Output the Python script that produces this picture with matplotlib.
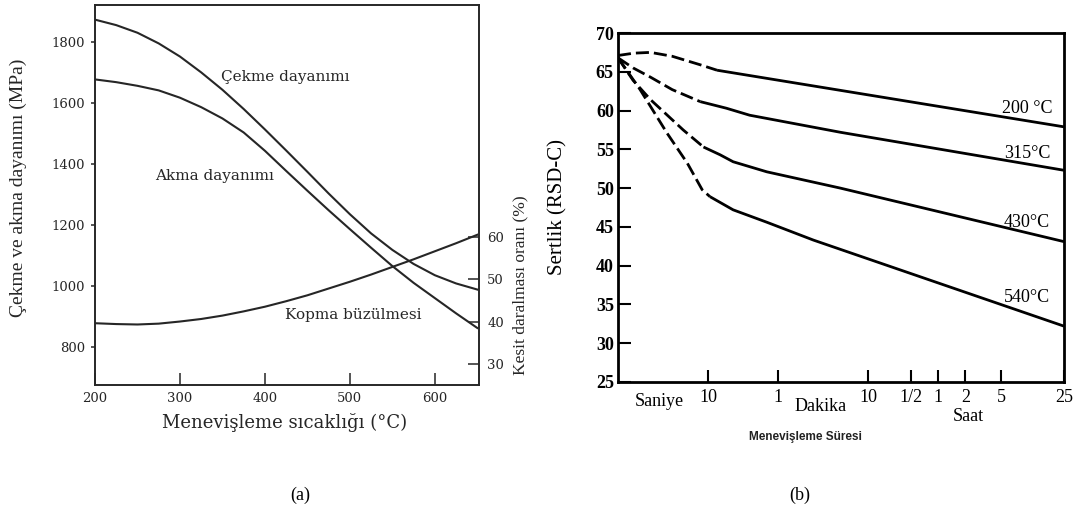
import matplotlib
matplotlib.use("Agg")
import matplotlib.pyplot as plt

# (a) strength and reduction of area vs tempering temperature
temp_c = [200, 225, 250, 275, 300, 325, 350, 375, 400, 425,
          450, 475, 500, 525, 550, 575, 600, 625, 650]
tensile_mpa = [1873, 1855, 1830, 1795, 1752, 1700, 1643, 1580, 1513, 1444,
               1374, 1303, 1235, 1172, 1118, 1072, 1035, 1008, 988]
yield_mpa = [1677, 1668, 1656, 1641, 1617, 1586, 1549, 1503, 1443, 1377,
             1312, 1248, 1186, 1125, 1065, 1010, 960, 910, 862]
area_red_pct = [39.6, 39.4, 39.3, 39.5, 40.0, 40.6, 41.4, 42.4, 43.5, 44.8,
                46.2, 47.8, 49.4, 51.1, 52.9, 54.7, 56.6, 58.5, 60.5]

mpa_ticks = [800, 1000, 1200, 1400, 1600, 1800]
pct_ticks = [30, 40, 50, 60]
temp_ticks = [200, 300, 400, 500, 600]

# (b) hardness vs tempering time (seconds), dashed early part + solid part
h200_dash_t = [1, 1.5, 2.3, 4, 8.2, 12.6]
h200_dash = [67.1, 67.4, 67.5, 67.0, 65.9, 65.2]
h200_t = [12.6, 90000]
h200 = [65.2, 57.9]

h315_dash_t = [1, 1.47, 2.3, 4, 8.2]
h315_dash = [66.8, 65.5, 64.3, 62.7, 61.15]
h315_t = [8.2, 16, 29, 295, 90000]
h315 = [61.15, 60.3, 59.4, 57.2, 52.3]

h430_dash_t = [1, 1.47, 2.3, 5.3, 8.9]
h430_dash = [66.8, 63.9, 61.4, 57.5, 55.3]
h430_t = [8.9, 13.6, 19, 45, 295, 90000]
h430 = [55.3, 54.3, 53.4, 52.1, 50.0, 43.1]

h540_dash_t = [1, 1.76, 3.5, 5.9, 8.6, 10.5]
h540_dash = [66.8, 62.7, 57.1, 53.2, 49.8, 48.9]
h540_t = [10.5, 19, 45, 148, 90000]
h540 = [48.9, 47.2, 45.6, 43.3, 32.2]

curve_labels = ["200 °C", "315°C", "430°C", "540°C"]
curve_label_y = [60.3, 54.5, 45.6, 35.9]

time_ticks = [10, 60, 600, 1800, 3600, 7200, 18000, 90000]
time_tick_labels = ["10", "1", "10", "1/2", "1", "2", "5", "25"]
hrc_ticks = [25, 30, 35, 40, 45, 50, 55, 60, 65, 70]

W, H = 1082, 520
fig = plt.figure(figsize=(W / 100, H / 100), dpi=100)
fig.patch.set_facecolor("white")

ink_a = "#262626"
serif_a = "DejaVu Serif"
times = "Liberation Serif"

# ---------- panel (a)
ax1 = fig.add_axes([95 / W, 135 / H, 384 / W, 380 / H])
ax1.plot(temp_c, tensile_mpa, color=ink_a, lw=1.5)
ax1.plot(temp_c, yield_mpa, color=ink_a, lw=1.5)
ax1.set_xlim(200, 652)
ax1.set_ylim(675, 1921)
ax1.set_xticks(temp_ticks)
ax1.set_yticks(mpa_ticks)
ax1.tick_params(axis="x", direction="in", length=9, width=1.1, pad=5,
                colors=ink_a, labelsize=9.5)
ax1.tick_params(axis="y", direction="out", length=3, width=1.1, pad=4,
                colors=ink_a, labelsize=9.5)
for lab in ax1.get_xticklabels() + ax1.get_yticklabels():
    lab.set_family(serif_a)
for sp in ax1.spines.values():
    sp.set_linewidth(1.2)
    sp.set_color(ink_a)

ax1r = ax1.twinx()
ax1r.plot(temp_c, area_red_pct, color=ink_a, lw=1.5)
ax1r.set_ylim(25, 114.8)
ax1r.set_yticks(pct_ticks)
ax1r.tick_params(axis="y", direction="in", length=8, width=1.1, pad=6,
                 colors=ink_a, labelsize=9.5)
for lab in ax1r.get_yticklabels():
    lab.set_family(serif_a)
for sp in ax1r.spines.values():
    sp.set_linewidth(1.2)
    sp.set_color(ink_a)

ax1.text(424, 1685, "Çekme dayanımı", family=serif_a, fontsize=11,
         color=ink_a, ha="center", va="center")
ax1.text(341, 1360, "Akma dayanımı", family=serif_a, fontsize=11,
         color=ink_a, ha="center", va="center")
ax1.text(504, 905, "Kopma büzülmesi", family=serif_a, fontsize=11,
         color=ink_a, ha="center", va="center")

fig.text(18 / W, 1 - 188 / H, "Çekme ve akma dayanımı (MPa)", family=times,
         fontsize=14, rotation=90, ha="center", va="center", color=ink_a)
fig.text(520 / W, 1 - 285 / H, "Kesit daralması oranı (%)", family=times,
         fontsize=12.5, rotation=90, ha="center", va="center", color=ink_a)
fig.text(285 / W, 1 - 422 / H, "Menevişleme sıcaklığı (°C)", family=serif_a,
         fontsize=13, ha="center", va="center", color=ink_a)

# ---------- panel (b)
ax2 = fig.add_axes([618 / W, 138 / H, 446 / W, 349 / H])
dash = dict(color="black", lw=2, dashes=(4.7, 1.8))
solid = dict(color="black", lw=2, solid_capstyle="butt")
ax2.plot(h200_dash_t, h200_dash, **dash)
ax2.plot(h200_t, h200, **solid)
ax2.plot(h315_dash_t, h315_dash, **dash)
ax2.plot(h315_t, h315, **solid)
ax2.plot(h430_dash_t, h430_dash, **dash)
ax2.plot(h430_t, h430, **solid)
ax2.plot(h540_dash_t, h540_dash, **dash)
ax2.plot(h540_t, h540, **solid)

ax2.set_xscale("log")
ax2.set_xlim(1, 90000)
ax2.set_ylim(25, 70)
ax2.set_xticks(time_ticks)
ax2.set_xticklabels(time_tick_labels)
ax2.xaxis.set_minor_locator(matplotlib.ticker.NullLocator())
ax2.set_yticks(hrc_ticks)
ax2.tick_params(axis="x", direction="in", length=9, width=1.5, pad=5,
                labelsize=13)
ax2.tick_params(axis="y", direction="in", length=9, width=1.5, pad=3,
                labelsize=13)
for lab in ax2.get_xticklabels() + ax2.get_yticklabels():
    lab.set_family(times)
for lab in ax2.get_yticklabels():
    lab.set_fontweight("bold")
for sp in ax2.spines.values():
    sp.set_linewidth(2)

for txt, yv in zip(curve_labels, curve_label_y):
    ax2.text(0.917, yv, txt, transform=ax2.get_yaxis_transform(),
             family=times, fontsize=13, ha="center", va="center")

ax2.text(0.092, -0.057, "Saniye", transform=ax2.transAxes, family=times,
         fontsize=13, ha="center", va="center")
ax2.text(0.454, -0.069, "Dakika", transform=ax2.transAxes, family=times,
         fontsize=13, ha="center", va="center")
ax2.text(0.785, -0.1, "Saat", transform=ax2.transAxes, family=times,
         fontsize=13, ha="center", va="center")
fig.text(805 / W, 1 - 437 / H, "Menevişleme Süresi", family="Liberation Sans",
         fontweight="bold", fontsize=8.5, ha="center", va="center",
         color="#222222")
fig.text(558 / W, 1 - 207 / H, "Sertlik (RSD-C)", family=times, fontsize=15,
         rotation=90, ha="center", va="center")

fig.text(300 / W, 1 - 495 / H, "(a)", family=times, fontsize=13,
         ha="center", va="center")
fig.text(800 / W, 1 - 495 / H, "(b)", family=times, fontsize=13,
         ha="center", va="center")

fig.savefig("out.png", dpi=100)
